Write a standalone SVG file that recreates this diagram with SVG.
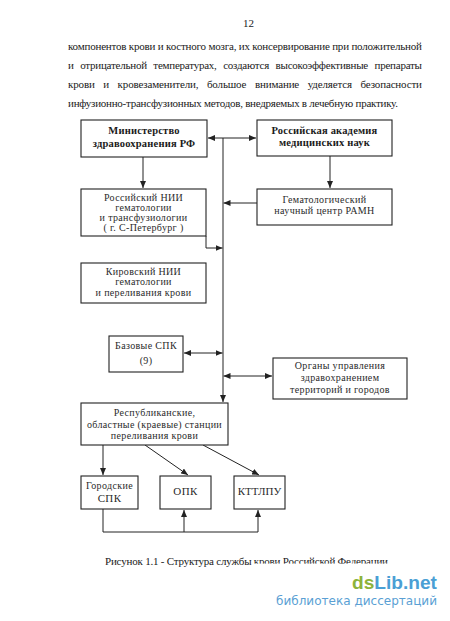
<svg xmlns="http://www.w3.org/2000/svg" width="450" height="621" viewBox="0 0 450 621" font-family="'Liberation Serif','Times New Roman',serif">
<defs>
<style>
.body{font-family:"Liberation Serif","Times New Roman",serif;font-size:11px;fill:#1a1a1a}
.box{fill:#fff;stroke:#222;stroke-width:1.1}
.t{font-family:"Liberation Serif","Times New Roman",serif;font-size:10px;fill:#2a2a2a;text-anchor:middle;letter-spacing:0.35px}
.b{font-weight:bold;font-size:10.5px;fill:#1a1a1a;letter-spacing:0.2px}
.c{fill:none;stroke:#222;stroke-width:1}
</style>
<marker id="ah" viewBox="0 0 7 6" refX="7" refY="3" markerWidth="7" markerHeight="6" markerUnits="userSpaceOnUse" orient="auto-start-reverse">
<path d="M0,0 L7,3 L0,6 z" fill="#222"/>
</marker>
</defs>
<rect width="450" height="621" fill="#fff"/>

<g id="page-text">
<text class="body" x="248.5" y="27" text-anchor="middle">12</text>
<text class="body" x="68" y="50" textLength="354" lengthAdjust="spacing">компонентов крови и костного мозга, их консервирование при положительной</text>
<text class="body" x="68" y="69" textLength="354" lengthAdjust="spacing" word-spacing="4">и отрицательной температурах, создаются высокоэффективные препараты</text>
<text class="body" x="68" y="88" textLength="354" lengthAdjust="spacing" word-spacing="6">крови и кровезаменители, большое внимание уделяется безопасности</text>
<text class="body" x="68" y="107" textLength="330" lengthAdjust="spacing">инфузионно-трансфузионных методов, внедряемых в лечебную практику.</text>
</g>

<g id="connectors">
<path class="c" d="M223,138 V402" marker-end="url(#ah)"/>
<path class="c" d="M208,138 H256" marker-start="url(#ah)" marker-end="url(#ah)"/>
<path class="c" d="M143,157 V188" marker-end="url(#ah)"/>
<path class="c" d="M330,156 V188" marker-end="url(#ah)"/>
<path class="c" d="M257,203 H223.5" marker-end="url(#ah)"/>
<path class="c" d="M206,236 V248 H222.5" marker-end="url(#ah)"/>
<path class="c" d="M184,353 H222.5" marker-start="url(#ah)" marker-end="url(#ah)"/>
<path class="c" d="M223.5,376 H272" marker-start="url(#ah)" marker-end="url(#ah)"/>
<path class="c" d="M103,445 V475" marker-end="url(#ah)"/>
<path class="c" d="M145,445 L188,475" marker-end="url(#ah)"/>
<path class="c" d="M203,445 L259,475" marker-end="url(#ah)"/>
<path class="c" d="M103,509 V532 H258"/>
<path class="c" d="M184,532 V510" marker-end="url(#ah)"/>
<path class="c" d="M258,532 V510" marker-end="url(#ah)"/>
</g>

<g id="minzdrav">
<rect class="box" x="81" y="120" width="126" height="37"/>
<text class="t b" x="144" y="134">Министерство</text>
<text class="t b" x="144" y="147">здравоохранения РФ</text>
</g>
<g id="ramn">
<rect class="box" x="257" y="120" width="135" height="36"/>
<text class="t b" x="324.5" y="134">Российская академия</text>
<text class="t b" x="324.5" y="146">медицинских наук</text>
</g>
<g id="nii-spb">
<rect class="box" x="81" y="189" width="125" height="47"/>
<text class="t" x="143.5" y="201">Российский НИИ</text>
<text class="t" x="143.5" y="210.5">гематологии</text>
<text class="t" x="143.5" y="220.5">и трансфузиологии</text>
<text class="t" x="143.5" y="230.5">( г. С-Петербург )</text>
</g>
<g id="gnc">
<rect class="box" x="257" y="189" width="135" height="36"/>
<text class="t" x="324.5" y="203">Гематологический</text>
<text class="t" x="324.5" y="214">научный центр РАМН</text>
</g>
<g id="nii-kirov">
<rect class="box" x="81" y="263" width="125" height="40"/>
<text class="t" x="143.5" y="275">Кировский НИИ</text>
<text class="t" x="143.5" y="285">гематологии</text>
<text class="t" x="143.5" y="296">и переливания крови</text>
</g>
<g id="bazovye">
<rect class="box" x="109" y="336" width="74" height="36"/>
<text class="t" x="146" y="349">Базовые СПК</text>
<text class="t" x="146" y="364">(9)</text>
</g>
<g id="organy">
<rect class="box" x="273" y="358" width="134" height="41"/>
<text class="t" x="340" y="369">Органы управления</text>
<text class="t" x="340" y="381">здравохранением</text>
<text class="t" x="340" y="393">территорий и городов</text>
</g>
<g id="respub">
<rect class="box" x="81" y="403" width="147" height="42"/>
<text class="t" x="154.5" y="416">Республиканские,</text>
<text class="t" x="154.5" y="427.5">областные (краевые) станции</text>
<text class="t" x="154.5" y="439">переливания крови</text>
</g>
<g id="gorodskie">
<rect class="box" x="81" y="476" width="57" height="33"/>
<text class="t" x="109.5" y="489">Городские</text>
<text class="t" x="109.5" y="502" style="font-size:11px">СПК</text>
</g>
<g id="opk">
<rect class="box" x="160" y="476" width="51" height="33"/>
<text class="t" x="185.5" y="495" style="font-size:11px">ОПК</text>
</g>
<g id="kttlpu">
<rect class="box" x="234" y="476" width="51" height="33"/>
<text class="t" x="259.5" y="495" style="font-size:11px;letter-spacing:0">КТТЛПУ</text>
</g>

<g id="caption">
<text class="body" x="105" y="565" textLength="283" lengthAdjust="spacing">Рисунок 1.1 - Структура службы крови Российской Федерации</text>
<rect x="252" y="563.6" width="150" height="6" fill="#fff"/>
</g>

<g id="watermark">
<text x="352" y="589" font-family="'Liberation Sans',Arial,sans-serif" font-weight="bold" font-size="19" textLength="85" lengthAdjust="spacingAndGlyphs"><tspan fill="#8db33a">ds</tspan><tspan fill="#4a9fd5">Lib.net</tspan></text>
<text x="276" y="605" font-family="'DejaVu Sans',Verdana,sans-serif" font-size="13" fill="#5a9fd4" textLength="161" lengthAdjust="spacingAndGlyphs">библиотека диссертаций</text>
</g>
</svg>
